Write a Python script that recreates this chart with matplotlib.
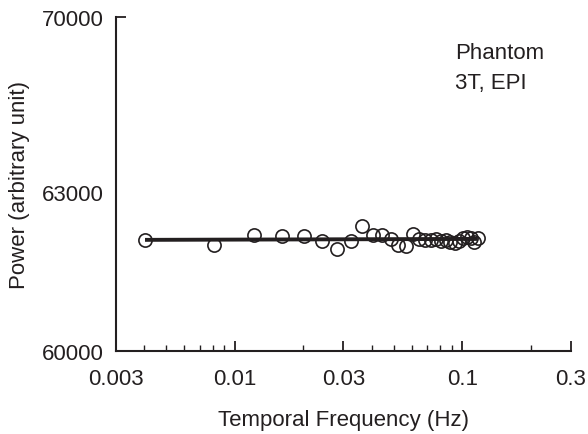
import numpy as np
import matplotlib
matplotlib.use('Agg')
import matplotlib.pyplot as plt
from matplotlib.ticker import FixedLocator, LogLocator, NullFormatter

plt.rcParams['font.family'] = ['Liberation Sans', 'DejaVu Sans']

# === Data ===
freq_hz = [0.00403, 0.00806, 0.01209, 0.01612, 0.02015, 0.02418, 0.02821,
           0.03224, 0.03627, 0.0403, 0.04433, 0.04836, 0.05239, 0.05642,
           0.06045, 0.06448, 0.06851, 0.07254, 0.07657, 0.0806, 0.08463,
           0.08866, 0.09269, 0.09672, 0.10075, 0.10478, 0.10881, 0.11284,
           0.11687]
power = [62095, 62000, 62180, 62161, 62161, 62076, 61925,
         62076, 62359, 62189, 62189, 62113, 61991, 61972,
         62198, 62113, 62095, 62095, 62113, 62076, 62095,
         62057, 62038, 62076, 62132, 62151, 62132, 62057,
         62132]

fit_freq = [0.00403, 0.11687]
fit_power = [62095, 62113]

x_ticks = [0.003, 0.01, 0.03, 0.1, 0.3]
x_labels = ['0.003', '0.01', '0.03', '0.1', '0.3']
y_ticks = [60000, 63000, 70000]
y_labels = ['60000', '63000', '70000']


# y axis in the figure is not uniform: 63000 sits near the middle
def fwd(y):
    y = np.asarray(y, dtype=float)
    return np.where(y < 63000, (y - 60000) / 3000 * 0.476,
                    0.476 + (y - 63000) / 7000 * 0.524)


def inv(v):
    v = np.asarray(v, dtype=float)
    return np.where(v < 0.476, 60000 + v / 0.476 * 3000,
                    63000 + (v - 0.476) / 0.524 * 7000)


ink = '#231f20'

fig = plt.figure(figsize=(5.88, 4.35), dpi=100)
ax = fig.add_axes([0.197, 0.191, 0.774, 0.768])

ax.plot(fit_freq, fit_power, color=ink, linewidth=2.8, solid_capstyle='butt', zorder=2)
ax.plot(freq_hz, power, linestyle='none', marker='o', markersize=9.5,
        markerfacecolor='none', markeredgecolor=ink, markeredgewidth=1.2, zorder=3)

ax.set_xscale('log')
ax.set_yscale('function', functions=(fwd, inv))
ax.set_xlim(0.003, 0.3)
ax.set_ylim(60000, 70000)

ax.xaxis.set_major_locator(FixedLocator(x_ticks))
ax.set_xticklabels(x_labels)
ax.xaxis.set_minor_locator(LogLocator(base=10, subs=np.arange(2, 10)))
ax.xaxis.set_minor_formatter(NullFormatter())
ax.yaxis.set_major_locator(FixedLocator(y_ticks))
ax.set_yticklabels(y_labels)
ax.yaxis.set_minor_locator(FixedLocator([]))

for s in ['top', 'right']:
    ax.spines[s].set_visible(False)
for s in ['left', 'bottom']:
    ax.spines[s].set_linewidth(1.5)
    ax.spines[s].set_color(ink)

ax.tick_params(axis='x', which='major', direction='in', length=7, width=1.3,
               color=ink, labelsize=16, labelcolor=ink, pad=12)
ax.tick_params(axis='x', which='minor', direction='in', length=4, width=1.0, color=ink)
ax.tick_params(axis='y', which='major', direction='in', length=7, width=1.3,
               color=ink, labelsize=16, labelcolor=ink, pad=9)
# the middle y tick has no mark in the reference
ax.yaxis.get_major_ticks()[1].tick1line.set_visible(False)

ax.set_xlabel('Temporal Frequency (Hz)', fontsize=16, color=ink, labelpad=15)
ax.set_ylabel('Power (arbitrary unit)', fontsize=16, color=ink, labelpad=8)

ax.text(0.745, 0.925, 'Phantom\n3T, EPI', transform=ax.transAxes, fontsize=16,
        color=ink, ha='left', va='top', linespacing=1.55)

fig.savefig('out.png', dpi=100)
